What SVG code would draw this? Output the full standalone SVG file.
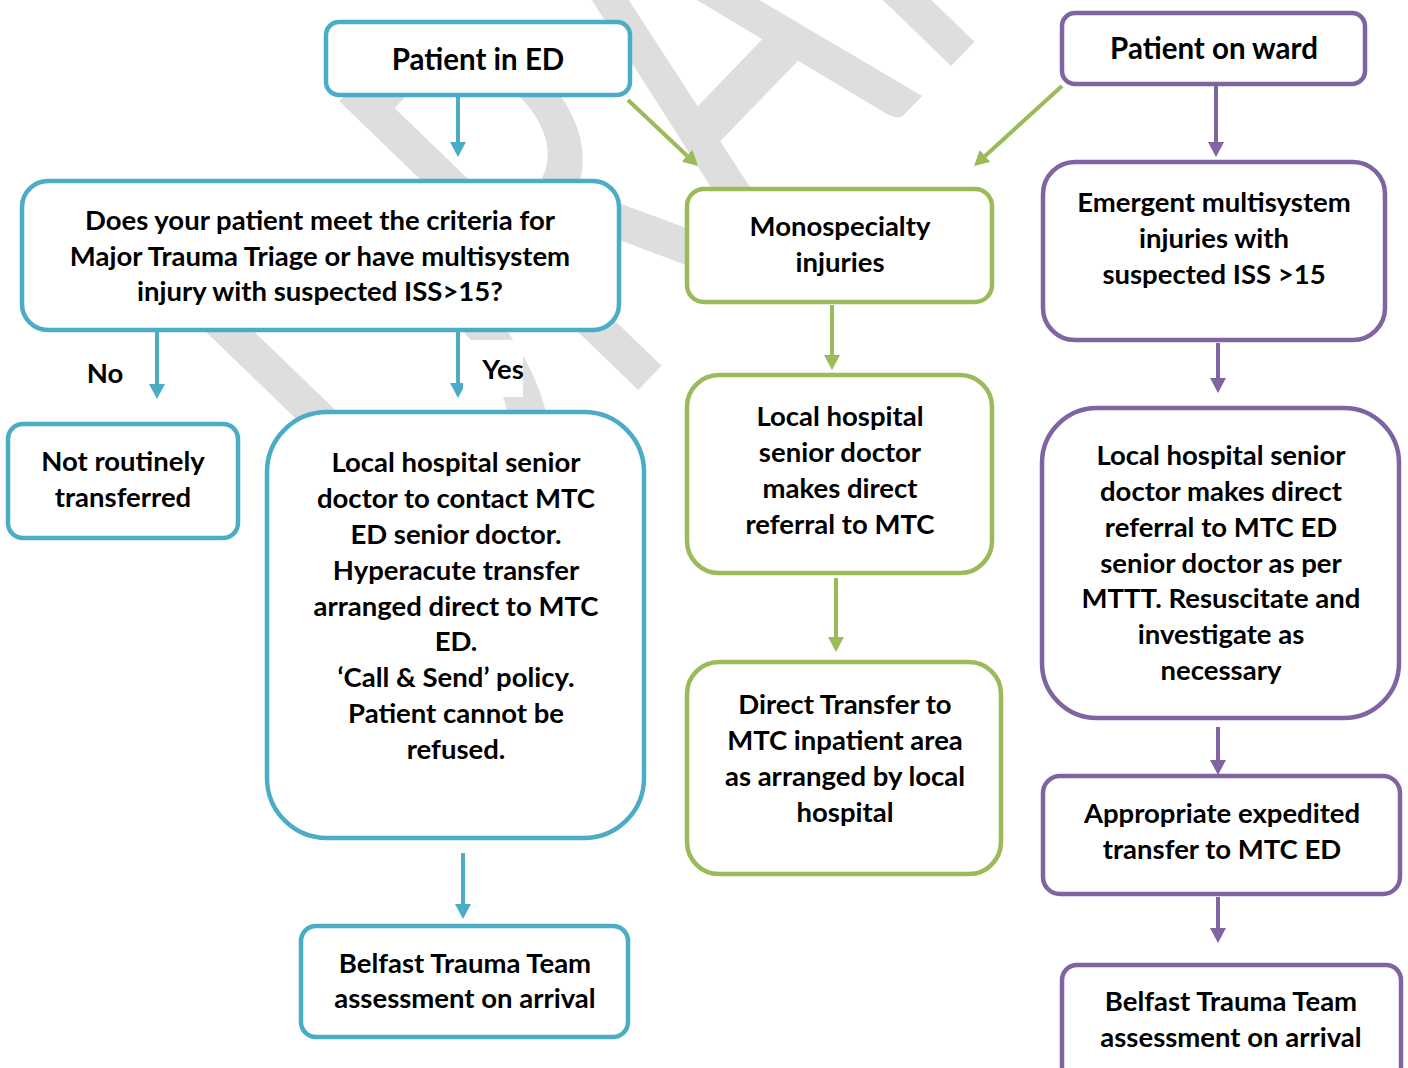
<svg xmlns="http://www.w3.org/2000/svg" width="1408" height="1068" viewBox="0 0 1408 1068">
<defs>
<style>
.t{font-family:Lato,"Open Sans","Liberation Sans",sans-serif;font-weight:bold;font-size:27.5px;fill:#000;text-anchor:middle}
.big{font-size:29.5px}
.tl{stroke:#4BACC6}
.gr{stroke:#9BBB59}
.pu{stroke:#8064A2}
.box{fill:#fff;stroke-width:4.5}
.ln{fill:none;stroke-width:4}
.wm{font-family:Lato,"Open Sans",sans-serif;font-size:580px;fill:#dedede;text-anchor:middle}
</style>
<marker id="aT" markerUnits="userSpaceOnUse" markerWidth="16" markerHeight="16" refX="0" refY="8" orient="auto" viewBox="0 0 16 16"><path d="M0,0 L15,8 L0,16 z" fill="#4BACC6"/></marker>
<marker id="aG" markerUnits="userSpaceOnUse" markerWidth="16" markerHeight="16" refX="0" refY="8" orient="auto" viewBox="0 0 16 16"><path d="M0,0 L15,8 L0,16 z" fill="#9BBB59"/></marker>
<marker id="aP" markerUnits="userSpaceOnUse" markerWidth="16" markerHeight="16" refX="0" refY="8" orient="auto" viewBox="0 0 16 16"><path d="M0,0 L15,8 L0,16 z" fill="#8064A2"/></marker>
</defs>
<rect width="1408" height="1068" fill="#fff"/>
<g id="watermark">
<text class="wm" transform="rotate(-46) scale(0.6,1)" x="8 400 758 1133 1450" y="730">DRAFT</text>
</g>
<g id="connectors">
<line class="ln tl" x1="458" y1="97" x2="458" y2="142" marker-end="url(#aT)"/>
<line class="ln tl" x1="157" y1="332" x2="157" y2="384" marker-end="url(#aT)"/>
<line class="ln tl" x1="458" y1="332" x2="458" y2="383" marker-end="url(#aT)"/>
<line class="ln tl" x1="463" y1="853" x2="463" y2="904" marker-end="url(#aT)"/>
<line class="ln gr" x1="628" y1="100" x2="687.1" y2="155.7" marker-end="url(#aG)"/>
<line class="ln gr" x1="1062" y1="86" x2="985.1" y2="155.9" marker-end="url(#aG)"/>
<line class="ln gr" x1="832" y1="305" x2="832" y2="355" marker-end="url(#aG)"/>
<line class="ln gr" x1="836" y1="578" x2="836" y2="637" marker-end="url(#aG)"/>
<line class="ln pu" x1="1216" y1="86" x2="1216" y2="142" marker-end="url(#aP)"/>
<line class="ln pu" x1="1218" y1="343" x2="1218" y2="378" marker-end="url(#aP)"/>
<line class="ln pu" x1="1218" y1="727" x2="1218" y2="760" marker-end="url(#aP)"/>
<line class="ln pu" x1="1218" y1="897" x2="1218" y2="928" marker-end="url(#aP)"/>
<rect x="463" y="340" width="60" height="57" fill="#fff"/>
<text class="t" x="105" y="383">No</text>
<text class="t" x="503" y="379">Yes</text>
</g>
<g id="n-ed">
<rect class="box tl" x="326" y="22" width="304" height="73" rx="13"/>
<text class="t big" x="478" y="70">Patient in ED</text>
</g>
<g id="n-question">
<rect class="box tl" x="22" y="181" width="597" height="149" rx="26"/>
<text class="t" x="320" y="230">Does your patient meet the criteria for</text>
<text class="t" x="320" y="266">Major Trauma Triage or have multisystem</text>
<text class="t" x="320" y="301">injury with suspected ISS&gt;15?</text>
</g>
<g id="n-not">
<rect class="box tl" x="8" y="424" width="230" height="114" rx="15"/>
<text class="t" x="123" y="471">Not routinely</text>
<text class="t" x="123" y="507">transferred</text>
</g>
<g id="n-local-ed">
<rect class="box tl" x="267" y="412" width="377" height="426" rx="60"/>
<text class="t" x="456" y="472">Local hospital senior</text>
<text class="t" x="456" y="508">doctor to contact MTC</text>
<text class="t" x="456" y="544">ED senior doctor.</text>
<text class="t" x="456" y="580">Hyperacute transfer</text>
<text class="t" x="456" y="616">arranged direct to MTC</text>
<text class="t" x="456" y="651">ED.</text>
<text class="t" x="456" y="687">‘Call &amp; Send’ policy.</text>
<text class="t" x="456" y="723">Patient cannot be</text>
<text class="t" x="456" y="759">refused.</text>
</g>
<g id="n-btt-ed">
<rect class="box tl" x="301" y="926" width="327" height="111" rx="15"/>
<text class="t" x="465" y="973">Belfast Trauma Team</text>
<text class="t" x="465" y="1008">assessment on arrival</text>
</g>
<g id="n-mono">
<rect class="box gr" x="687" y="189" width="305" height="113" rx="17"/>
<text class="t" x="840" y="236">Monospecialty</text>
<text class="t" x="840" y="272">injuries</text>
</g>
<g id="n-referral">
<rect class="box gr" x="687" y="375" width="305" height="198" rx="32"/>
<text class="t" x="840" y="426">Local hospital</text>
<text class="t" x="840" y="462">senior doctor</text>
<text class="t" x="840" y="498">makes direct</text>
<text class="t" x="840" y="534">referral to MTC</text>
</g>
<g id="n-direct">
<rect class="box gr" x="687" y="662" width="314" height="212" rx="32"/>
<text class="t" x="845" y="714">Direct Transfer to</text>
<text class="t" x="845" y="750">MTC inpatient area</text>
<text class="t" x="845" y="786">as arranged by local</text>
<text class="t" x="845" y="822">hospital</text>
</g>
<g id="n-ward">
<rect class="box pu" x="1062" y="13" width="303" height="71" rx="13"/>
<text class="t big" x="1214" y="59">Patient on ward</text>
</g>
<g id="n-emergent">
<rect class="box pu" x="1043" y="162" width="342" height="178" rx="32"/>
<text class="t" x="1214" y="212">Emergent multisystem</text>
<text class="t" x="1214" y="248">injuries with</text>
<text class="t" x="1214" y="284">suspected ISS &gt;15</text>
</g>
<g id="n-local-ward">
<rect class="box pu" x="1042" y="408" width="357" height="310" rx="55"/>
<text class="t" x="1221" y="465">Local hospital senior</text>
<text class="t" x="1221" y="501">doctor makes direct</text>
<text class="t" x="1221" y="537">referral to MTC ED</text>
<text class="t" x="1221" y="573">senior doctor as per</text>
<text class="t" x="1221" y="608">MTTT. Resuscitate and</text>
<text class="t" x="1221" y="644">investigate as</text>
<text class="t" x="1221" y="680">necessary</text>
</g>
<g id="n-expedited">
<rect class="box pu" x="1043" y="776" width="357" height="118" rx="17"/>
<text class="t" x="1222" y="823">Appropriate expedited</text>
<text class="t" x="1222" y="859">transfer to MTC ED</text>
</g>
<g id="n-btt-ward">
<rect class="box pu" x="1062" y="965" width="339" height="118" rx="15"/>
<text class="t" x="1231" y="1011">Belfast Trauma Team</text>
<text class="t" x="1231" y="1047">assessment on arrival</text>
</g>
</svg>
